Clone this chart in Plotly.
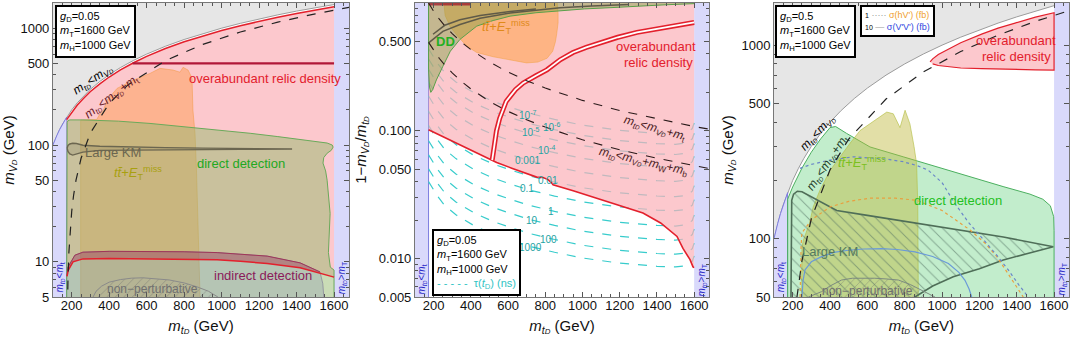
import numpy as np
import plotly.graph_objects as go

FONT = "Liberation Sans, Arial, sans-serif"

# ---------------- axes / ticks ----------------
x_range = [100, 1680]
x_tickvals = [200, 400, 600, 800, 1000, 1200, 1400, 1600]
y1_ticks = [5, 10, 50, 100, 500, 1000]
y1_text = ["5", "10", "50", "100", "500", "1000"]
y1_minor = [6, 7, 8, 9, 20, 30, 40, 60, 70, 80, 90, 200, 300, 400, 600, 700, 800, 900]
y2_ticks = [0.005, 0.01, 0.05, 0.1, 0.5]
y2_text = ["0.005", "0.010", "0.050", "0.100", "0.500"]
y2_minor = [0.006, 0.007, 0.008, 0.009, 0.02, 0.03, 0.04, 0.06, 0.07, 0.08, 0.09, 0.2, 0.3, 0.4, 0.6, 0.7, 0.8, 0.9]
y3_ticks = [50, 100, 500, 1000]
y3_text = ["50", "100", "500", "1000"]
y3_minor = [60, 70, 80, 90, 200, 300, 400, 600, 700, 800, 900]

# ---------------- common boundaries ----------------
diag_x = [100, 110, 120, 135, 150, 173, 200, 230, 260, 300, 350, 400, 460, 530, 600, 700, 800, 900, 1000, 1100, 1200, 1300, 1400, 1500, 1600, 1700]
diag_y = [100, 110, 120, 135, 150, 173, 200, 230, 260, 300, 350, 400, 460, 530, 600, 700, 800, 900, 1000, 1100, 1200, 1300, 1400, 1500, 1600, 1700]
mt_line_x = [175, 178, 180, 185, 190, 200, 210, 223, 250, 300, 400, 500, 700, 900, 1100, 1300, 1500, 1600, 1700]
mt_line_y = [2, 5, 7, 12, 17, 27, 37, 50, 77, 127, 227, 327, 527, 727, 927, 1127, 1327, 1427, 1527]

# ---------------- panel 1 (g_D = 0.05) ----------------
relic1_top_x = [173, 200, 230, 260, 300, 350, 400, 460, 530, 600, 700, 800, 900, 1000, 1100, 1200, 1300, 1400, 1500, 1600]
relic1_top_y = [165, 191, 220, 248, 287, 334, 382, 439, 506, 573, 669, 764, 860, 955, 1050, 1146, 1242, 1337, 1433, 1528]
relic1_low_x = [175, 182, 207, 260, 400, 618, 800, 976, 1100, 1243, 1419, 1525, 1595, 1600]
relic1_low_y = [7.5, 8.5, 10.0, 10.6, 10.7, 10.6, 10.5, 10.4, 10.1, 9.7, 8.9, 8.0, 7.5, 7.4]
id1_up_x = [175, 180, 217, 260, 400, 618, 800, 976, 1100, 1243, 1419, 1525]
id1_up_y = [7.6, 9.0, 11.4, 12.1, 12.3, 12.3, 12.2, 12.0, 11.7, 11.2, 9.8, 8.2]
line500_x = [525, 1600]
line500_y = [500, 500]
tt1_x = [248, 248, 300, 333, 351, 370, 388, 442, 527, 618, 671, 741, 778, 794, 821, 842, 847, 858, 866, 872, 878, 885]
tt1_y = [5, 163, 165, 165, 185, 200, 241, 305, 358, 410, 453, 438, 420, 462, 438, 373, 198, 126, 60, 30, 12, 5]
dd1_x = [173, 173, 176, 180, 191, 260, 351, 450, 618, 750, 885, 1020, 1152, 1300, 1419, 1500, 1563, 1590, 1595, 1585, 1563, 1545, 1541, 1555, 1563, 1579, 1575, 1570, 1580, 1600, 1600]
dd1_y = [5, 140, 155, 162, 164, 164, 163, 160, 153, 146, 139, 132, 126, 118, 112, 108, 104, 100, 96, 90, 85, 78, 70, 60, 50, 26, 18, 12, 9, 8.5, 5]
km1_x = [176, 180, 190, 205, 225, 260, 350, 500, 700, 900, 1100, 1376, 1100, 900, 700, 500, 350, 260, 225, 205, 190, 180, 176]
km1_y = [94, 99, 102, 103.5, 103, 99.5, 97.5, 96, 95, 94, 93.5, 92.5, 91.8, 91.5, 91.2, 90.8, 90, 87, 83, 82, 84, 88, 94]
np1_x = [314, 330, 360, 400, 460, 520, 580, 650, 720, 800, 870, 930, 965, 980]
np1_y = [5, 5.6, 6.2, 6.7, 7.05, 7.25, 7.3, 7.2, 7.0, 6.6, 6.1, 5.6, 5.2, 5]

# ---------------- panel 2 (1 - mV/mt) ----------------
relic2_low_x = [173, 250, 342, 420, 503, 515, 539, 620, 700, 754, 788, 815, 835, 842, 950, 1057, 1200, 1325, 1420, 1508, 1540, 1578, 1594, 1600]
relic2_low_y = [0.102, 0.09, 0.0778, 0.069, 0.060, 0.059, 0.0565, 0.051, 0.046, 0.0434, 0.0431, 0.0415, 0.039, 0.0378, 0.034, 0.0303, 0.026, 0.0227, 0.019, 0.0149, 0.012, 0.0098, 0.0086, 0.0085]
chan_x = [515, 522, 530, 538, 555, 590, 640, 682, 750, 809, 880, 949, 1020, 1094, 1190, 1293, 1380, 1454, 1530, 1600]
chan_y = [0.059, 0.07, 0.085, 0.1, 0.125, 0.17, 0.21, 0.237, 0.27, 0.30, 0.36, 0.41, 0.45, 0.49, 0.54, 0.59, 0.62, 0.65, 0.68, 0.705]
tau_base_x = [173, 190, 220, 260, 320, 420, 520, 620, 723, 850, 1000, 1200, 1400, 1500, 1560, 1590, 1600]
tau_base_y = [0.040, 0.0367, 0.031, 0.026, 0.022, 0.018, 0.0155, 0.0138, 0.0124, 0.0112, 0.0101, 0.0092, 0.0087, 0.0086, 0.0088, 0.0095, 0.0105]
tau_offsets = [0, 0.1, 0.21, 0.32, 0.44, 0.55, 0.67, 0.78, 0.88, 0.96, 1.04]
tau_labels = ["1000", "100", "10", "1", "0.1", "0.01", "0.001", "10<sup>-4</sup>", "10<sup>-5</sup>", "10<sup>-6</sup>", "10<sup>-7</sup>"]
tau_label_x = [723, 815, 731, 831, 702, 815, 707, 809, 720, 835, 707]
tau_label_y = [0.0123, 0.0140, 0.0198, 0.0233, 0.0352, 0.041, 0.059, 0.071, 0.098, 0.107, 0.134]
mt2_x = [173, 185, 200, 230, 260, 300, 350, 400, 500, 600, 700, 800, 1000, 1200, 1400, 1600, 1700]
mt2_y = [1.0, 0.935, 0.865, 0.752, 0.665, 0.577, 0.494, 0.433, 0.346, 0.288, 0.247, 0.216, 0.173, 0.144, 0.124, 0.108, 0.102]
mwb2_x = [173, 200, 230, 260, 300, 350, 400, 500, 600, 700, 800, 1000, 1200, 1400, 1600, 1700]
mwb2_y = [0.492, 0.426, 0.370, 0.328, 0.284, 0.243, 0.213, 0.170, 0.142, 0.122, 0.107, 0.085, 0.071, 0.061, 0.053, 0.050]
dd2_x = [173, 173, 178, 185, 195, 215, 250, 290, 342, 432, 520, 611, 750, 879, 1010, 1148, 1300, 1450, 1600, 1600]
dd2_y = [1.2, 0.3, 0.22, 0.2, 0.21, 0.25, 0.32, 0.42, 0.52, 0.66, 0.73, 0.79, 0.84, 0.87, 0.9, 0.92, 0.95, 0.97, 0.99, 1.2]
tt2_x = [250, 262, 290, 330, 378, 432, 520, 611, 700, 760, 810, 840, 855, 862, 869, 869, 860]
tt2_y = [1.2, 0.8, 0.65, 0.55, 0.46, 0.41, 0.38, 0.36, 0.34, 0.345, 0.37, 0.42, 0.5, 0.58, 0.7, 0.83, 1.2]
km2a_x = [175, 250, 342, 450, 611, 750, 879, 1050, 1250]
km2a_y = [0.49, 0.6, 0.68, 0.76, 0.835, 0.88, 0.92, 0.95, 0.975]
km2b_x = [197, 260, 342, 450, 611, 750]
km2b_y = [0.57, 0.67, 0.74, 0.80, 0.86, 0.9]
top2_x = [173, 400]
top2_y = [0.985, 0.985]

# ---------------- panel 3 (g_D = 0.5) ----------------
relic3_x = [936, 950, 980, 1034, 1100, 1212, 1300, 1391, 1500, 1600, 1600, 1500, 1400, 1300, 1212, 1100, 1034, 980, 950]
relic3_y = [820, 850, 895, 950, 1030, 1140, 1225, 1300, 1395, 1470, 744, 746, 748, 750, 756, 762, 771, 785, 800]
dd3_x = [173, 173, 200, 250, 300, 350, 400, 430, 489, 614, 792, 971, 1150, 1327, 1471, 1540, 1580, 1598, 1600, 1600]
dd3_y = [50, 160, 185, 232, 280, 328, 375, 380, 350, 298, 265, 235, 209, 186, 170, 160, 148, 130, 110, 50]
tt3_x = [248, 250, 257, 290, 310, 346, 400, 453, 507, 561, 614, 668, 704, 739, 775, 802, 828, 850, 864, 870, 873]
tt3_y = [50, 90, 98, 120, 146, 178, 225, 265, 311, 362, 392, 427, 451, 442, 375, 461, 392, 300, 243, 150, 50]
km3_x = [191, 191, 195, 205, 225, 250, 300, 436, 600, 864, 1100, 1328, 1596, 1328, 1200, 1060, 950, 864, 855]
km3_y = [50, 140, 158, 170, 176, 175, 165, 140, 132, 120, 110, 102, 91, 77.7, 70, 63.7, 57, 51, 50]
np3_x = [284, 320, 355, 400, 462, 520, 570, 640, 700, 766, 830, 891, 930, 962]
np3_y = [50, 51.8, 53.3, 57, 61.2, 62.5, 62.7, 62.5, 62, 61.2, 58, 54, 52, 50]
bl3_x = [250, 255, 266, 300, 355, 420, 498, 580, 677, 760, 855, 950, 1034, 1090, 1123, 1145, 1159]
bl3_y = [50, 60, 69, 76, 80.8, 85, 87.2, 88.5, 89, 88, 85.6, 81, 74.5, 67, 61, 55, 50]
or3_x = [240, 242, 245, 249, 300, 400, 500, 614, 750, 864, 1000, 1150, 1230, 1293, 1364, 1435]
or3_y = [50, 70, 90, 107, 125, 146, 156, 162, 162, 158, 140, 111, 95, 81, 63.7, 50]
bd3_x = [239, 300, 400, 525, 700, 792, 870, 926, 1000, 1069, 1140, 1212, 1290, 1355, 1410, 1462]
bd3_y = [231, 242, 255, 265, 258, 250, 238, 226, 195, 152, 122, 102, 83, 69, 58, 50]

# ---------------- colours ----------------
GRAY_FILL = "#e6e6e6"
STRIP_FILL = "#d9d9fb"
STRIP_LINE = "#7c7ce0"
PINK = "rgba(251,176,184,0.7)"
RED = "#e3202c"

fig = go.Figure()
ann = []


def axn(n):
    return ("x" if n == 1 else f"x{n}"), ("y" if n == 1 else f"y{n}")


def poly(n, xs, ys, fill, line=None, width=1.0, pattern=None, dash=None):
    xa, ya = axn(n)
    kw = {}
    if pattern is not None:
        kw["fillpattern"] = pattern
    fig.add_trace(go.Scatter(
        x=xs, y=ys, xaxis=xa, yaxis=ya, mode="lines", fill="toself",
        fillcolor=fill,
        line=dict(color=line if line else "rgba(0,0,0,0)", width=width if line else 0, dash=dash),
        hoverinfo="skip", showlegend=False, **kw))


def curve(n, xs, ys, color, width=1.2, dash=None, opacity=1.0):
    xa, ya = axn(n)
    fig.add_trace(go.Scatter(
        x=xs, y=ys, xaxis=xa, yaxis=ya, mode="lines",
        line=dict(color=color, width=width, dash=dash), opacity=opacity,
        hoverinfo="skip", showlegend=False))


def text(n, x, y, s, color="black", size=12, angle=0, xanchor="center", yanchor="middle"):
    xa, ya = axn(n)
    ann.append(dict(xref=xa, yref=ya, x=x, y=float(np.log10(y)), text=s, showarrow=False,
                    font=dict(family=FONT, size=size, color=color), textangle=angle,
                    xanchor=xanchor, yanchor=yanchor))


def box(n, x, y, s, size=11, xanchor="left", yanchor="top"):
    xa, ya = axn(n)
    ann.append(dict(xref=xa + " domain", yref=ya + " domain", x=x, y=y, text=s, showarrow=False,
                    align="left", font=dict(family=FONT, size=size, color="black"),
                    bgcolor="white", bordercolor="black", borderwidth=2, borderpad=3,
                    xanchor=xanchor, yanchor=yanchor))


MTD = "<i>m</i><sub><i>t</i><span style='font-size:75%'><i>D</i></span></sub>"
MVD = "<i>m</i><sub><i>V</i><span style='font-size:75%'><i>D</i></span></sub>"
PARAMS = "<br><i>m</i><sub>T</sub>=1600 GeV<br><i>m</i><sub>H</sub>=1000 GeV"
TT = "<i>tt\u0304</i>+<i>E</i><sub>T</sub><sup>miss</sup>"


def base_mass_panel(n, ylo, yhi):
    poly(n, diag_x + [1700, 100], diag_y + [yhi * 3, yhi * 3], GRAY_FILL, "#9c9c9c", 1.0)
    poly(n, [100, 173, 173, 150, 135, 120, 110, 100], [ylo / 2, ylo / 2, 173, 150, 135, 120, 110, 100],
         STRIP_FILL, STRIP_LINE, 1.0)
    poly(n, [1600, 1700, 1700, 1600], [ylo / 2, ylo / 2, yhi * 3, yhi * 3], STRIP_FILL, STRIP_LINE, 1.0)


def strip_labels(n, yl, yr):
    text(n, 136, yl, MTD + "&lt;<i>m</i><sub>t</sub>", "#2a2ac8", 10, -90)
    text(n, 1640, yr, MTD + "&gt;<i>m</i><sub>T</sub>", "#2a2ac8", 10, -90)


# ======== panel 1 ========
base_mass_panel(1, 5, 1640)
poly(1, relic1_top_x + relic1_low_x[::-1], relic1_top_y + relic1_low_y[::-1], "rgba(252,200,205,1)")
poly(1, tt1_x, tt1_y, "rgba(255,150,60,0.42)", "rgba(240,150,60,0.6)", 0.8)
poly(1, dd1_x, dd1_y, "rgba(150,185,110,0.5)", "#6aaa5a", 1.0)
poly(1, id1_up_x + [1540, 1550, 175], id1_up_y + [6.5, 4, 4], "rgba(110,120,175,0.22)", "#8a8a9a", 0.8)
poly(1, id1_up_x + relic1_low_x[:12][::-1], id1_up_y + relic1_low_y[:12][::-1], "rgba(170,40,70,0.32)")
curve(1, id1_up_x, id1_up_y, "#a03658", 1.0)
curve(1, relic1_low_x, relic1_low_y, RED, 1.5)
curve(1, relic1_top_x, relic1_top_y, RED, 1.5)
curve(1, line500_x, line500_y, "#b01838", 2.2)
poly(1, km1_x, km1_y, "rgba(120,115,90,0.2)", "#6b6650", 1.4)
poly(1, np1_x, np1_y, "rgba(0,0,0,0)", "#8a8a8a", 1.0,
     pattern=dict(shape="/", fgcolor="rgba(110,110,110,0.55)", bgcolor="rgba(0,0,0,0)", size=6, solidity=0.12))
curve(1, mt_line_x, mt_line_y, "#222222", 1.2, "dash")

text(1, 314, 358, MTD + "&lt;" + MVD, "black", 12, -34)
text(1, 415, 257, MTD + "&lt;" + MVD + "+<i>m</i><sub>t</sub>", "#6a1a28", 12, -37)
text(1, 1232, 370, "overabundant relic density", "#e3202c", 13)
text(1, 1104, 70, "direct detection", "#22a822", 13)
text(1, 554, 58, TT, "#a8a010", 13)
text(1, 420, 87, "Large KM", "#6b6650", 13)
text(1, 1221, 7.6, "indirect detection", "#8a1a5a", 13)
text(1, 629, 5.8, "non\u2212perturbative", "#707070", 12)
strip_labels(1, 7.3, 7.3)
box(1, 0.007, 0.993, "<i>g</i><sub>D</sub>=0.05" + PARAMS)

# ======== panel 2 ========
poly(2, [100, 173, 173, 100], [0.001, 0.001, 2, 2], STRIP_FILL, STRIP_LINE, 1.0)
poly(2, [1600, 1700, 1700, 1600], [0.001, 0.001, 2, 2], STRIP_FILL, STRIP_LINE, 1.0)
bx = np.array(tau_base_x, dtype=float)
by = np.log10(np.array(tau_base_y, dtype=float))
for off in tau_offsets:
    curve(2, bx, 10 ** (by + off), "#38cccc", 1.2, "dash")
poly(2, relic2_low_x + [1600, 173], relic2_low_y + [1.2, 1.2], PINK)
curve(2, relic2_low_x, relic2_low_y, RED, 1.6)
curve(2, chan_x, chan_y, RED, 5.0)
curve(2, chan_x, chan_y, "white", 1.8)
poly(2, tt2_x, tt2_y, "rgba(255,160,60,0.5)", "rgba(240,160,60,0.6)", 0.8)
poly(2, dd2_x, dd2_y, "rgba(120,160,60,0.42)", "#5aa04a", 1.0)
curve(2, km2a_x, km2a_y, "#5f5a48", 1.5)
curve(2, km2b_x, km2b_y, "#5f5a48", 1.5)
curve(2, top2_x, top2_y, "#a02030", 3, opacity=0.8)
curve(2, mt2_x, mt2_y, "#2a1a1a", 1.1, "dash")
curve(2, mwb2_x, mwb2_y, "#2a1a1a", 1.1, "dash")
for lab, lx, ly in zip(tau_labels, tau_label_x, tau_label_y):
    text(2, lx, ly, lab, "#1fa3a3", 10)
text(2, 1390, 0.104, MTD + "&lt;" + MVD + "+<i>m</i><sub>t</sub>", "#4a1a22", 12, 16)
text(2, 1327, 0.057, MTD + "&lt;" + MVD + "+<i>m</i><sub>W</sub>+<i>m</i><sub>b</sub>", "#4a1a22", 12, 13)
text(2, 266, 0.5, "<b>DD</b>", "#22b022", 13)
text(2, 590, 0.65, TT, "#e08a1a", 13)
text(2, 1395, 0.46, "overabundant", "#e3202c", 13)
text(2, 1411, 0.34, "relic density", "#e3202c", 13)
strip_labels(2, 0.0068, 0.0068)
box(2, 0.057, 0.005, "<i>g</i><sub>D</sub>=0.05" + PARAMS +
    "<br><span style='color:#30c4c4'>- - - - -  \u03c4(<i>t</i><sub>D</sub>) (ns)</span>",
    yanchor="bottom")

# ======== panel 3 ========
base_mass_panel(3, 50, 1650)
poly(3, relic3_x, relic3_y, "rgba(252,200,205,1)", RED, 1.2)
poly(3, dd3_x, dd3_y, "rgba(70,200,100,0.33)", "#4cb060", 1.0)
poly(3, tt3_x, tt3_y, "rgba(190,185,60,0.45)", "rgba(180,190,70,0.8)", 0.8)
poly(3, km3_x, km3_y, "rgba(0,0,0,0)", "#4f6e58", 1.6,
     pattern=dict(shape="\\", fgcolor="rgba(80,110,95,0.55)", bgcolor="rgba(0,0,0,0)", size=8, solidity=0.12))
poly(3, np3_x, np3_y, "rgba(0,0,0,0)", "#7c8a80", 1.0,
     pattern=dict(shape="/", fgcolor="rgba(110,110,110,0.5)", bgcolor="rgba(0,0,0,0)", size=6, solidity=0.12))
curve(3, bl3_x, bl3_y, "#6a9ad8", 1.2)
curve(3, or3_x, or3_y, "#e8a040", 1.2, "dot")
curve(3, bd3_x, bd3_y, "#6a86c8", 1.2, "dot")
curve(3, mt_line_x, mt_line_y, "#222222", 1.2, "dash")
text(3, 336, 350, MTD + "&lt;" + MVD, "black", 12, -47)
text(3, 390, 246, MTD + "&lt;" + MVD + "+<i>m</i><sub>t</sub>", "#1a3a26", 12, -56)
text(3, 1396, 1059, "overabundant", "#e3202c", 13)
text(3, 1401, 871, "relic density", "#e3202c", 13)
text(3, 1083, 158, "direct detection", "#22c022", 13)
text(3, 571, 246, TT, "#7cc020", 13)
text(3, 398, 85.6, "Large KM", "#557a60", 13)
text(3, 601, 53.6, "non\u2212perturbative", "#707070", 12)
strip_labels(3, 63, 62)
box(3, 0.005, 0.993, "<i>g</i><sub>D</sub>=0.5" + PARAMS)
box(3, 0.29, 0.993,
    "<span style='font-size:7px'>1</span> <span style='color:#999'>\u00b7\u00b7\u00b7\u00b7\u00b7</span> "
    "<span style='color:#f0a030'>\u03c3(hV') (fb)</span><br>"
    "<span style='font-size:7px'>10</span> <span style='color:#999'>\u2014</span> "
    "<span style='color:#3048e0'>\u03c3(V'V') (fb)</span>", size=9)

# ---------------- layout ----------------
TICKFONT = dict(family=FONT, size=13, color="#111")
TITLEFONT = dict(family=FONT, size=15, color="#111")


def xax(dom, anchor):
    return dict(domain=dom, anchor=anchor, range=x_range, tickvals=x_tickvals, ticks="inside", ticklen=5,
                tickcolor="#555", showline=True, linecolor="#777", linewidth=1, mirror="ticks",
                showgrid=False, zeroline=False, tickfont=TICKFONT, automargin=False,
                ticklabelstandoff=-4,
                minor=dict(ticks="inside", ticklen=3, dtick=50, tick0=0, tickcolor="#555"),
                title=dict(text=MTD + " (GeV)", font=TITLEFONT, standoff=8))


def yax(anchor, lo, hi, tv, tt, minor, title, standoff):
    return dict(domain=[0.129, 0.991], anchor=anchor, type="log", range=[np.log10(lo), np.log10(hi)],
                tickvals=tv, ticktext=tt, ticks="inside", ticklen=5, tickcolor="#555",
                showline=True, linecolor="#777", linewidth=1, mirror="ticks", showgrid=False,
                zeroline=False, tickfont=TICKFONT, automargin=False,
                minor=dict(ticks="inside", ticklen=3, tickmode="array", tickvals=minor, tickcolor="#555"),
                title=dict(text=title, font=TITLEFONT, standoff=standoff))


fig.update_layout(
    width=1072, height=341, template="none",
    margin=dict(l=0, r=0, t=0, b=0),
    paper_bgcolor="white", plot_bgcolor="white",
    font=dict(family=FONT),
    xaxis=xax([0.0494, 0.3256], "y"),
    xaxis2=xax([0.3871, 0.6614], "y2"),
    xaxis3=xax([0.7220, 0.9972], "y3"),
    yaxis=yax("x", 5, 1640, y1_ticks, y1_text, y1_minor, MVD + " (GeV)", 4),
    yaxis2=yax("x2", 0.005, 1.0, y2_ticks, y2_text, y2_minor, "1\u2212" + MVD + "/" + MTD, 8),
    yaxis3=yax("x3", 50, 1650, y3_ticks, y3_text, y3_minor, MVD + " (GeV)", 4),
    annotations=ann,
)

fig.write_html("out.html", config={"displayModeBar": False, "staticPlot": True},
               post_script="document.body.style.margin='0px';document.body.style.overflow='hidden';")
